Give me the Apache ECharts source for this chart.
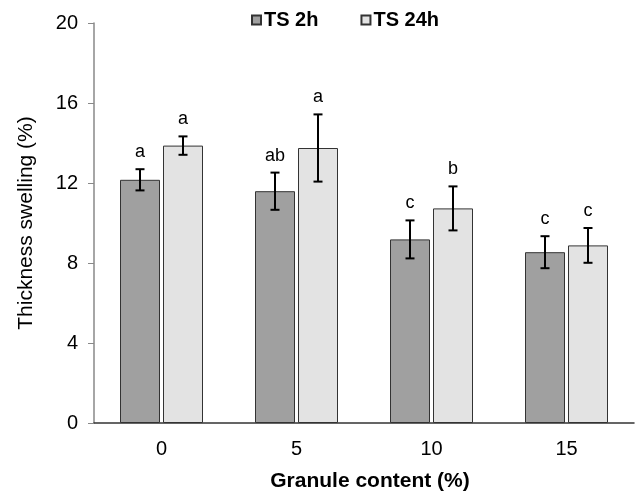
<!DOCTYPE html>
<html>
<head>
<meta charset="utf-8">
<script src="https://cdn.jsdelivr.net/npm/echarts@6/dist/echarts.min.js"></script>
<style>
  html, body { margin: 0; padding: 0; background: #fff; }
  #chart { width: 636px; height: 497px; }
</style>
</head>
<body>
<div id="chart"></div>
<script>
var categories = ['0', '5', '10', '15'];
var ts2h = [12.16, 11.59, 9.18, 8.54];
var ts2hErr = [0.53, 0.93, 0.95, 0.8];
var ts2hLetters = ['a', 'ab', 'c', 'c'];
var ts24h = [13.87, 13.75, 10.73, 8.88];
var ts24hErr = [0.46, 1.68, 1.1, 0.87];
var ts24hLetters = ['a', 'a', 'b', 'c'];
var yTicks = { min: 0, max: 20, interval: 4 };

var FONT = '"Liberation Sans", Arial, sans-serif';
var BAR_W = 40;
var BAR_GAP = 3;

// error bar + letter for one series, shifted to its bar centre
function errorSeries(values, errs, letters, shift) {
  return {
    type: 'custom',
    silent: true,
    z: 5,
    data: values.map(function (v, i) { return [i, v, errs[i]]; }),
    renderItem: function (params, api) {
      var i = api.value(0);
      var v = api.value(1);
      var e = api.value(2);
      var top = api.coord([i, v + e]);
      var bot = api.coord([i, v - e]);
      var x = top[0] + shift;
      var cap = 4.5;
      var st = { stroke: '#000', lineWidth: 2 };
      return {
        type: 'group',
        children: [
          { type: 'line', shape: { x1: x, y1: top[1], x2: x, y2: bot[1] }, style: st },
          { type: 'line', shape: { x1: x - cap, y1: top[1], x2: x + cap, y2: top[1] }, style: st },
          { type: 'line', shape: { x1: x - cap, y1: bot[1], x2: x + cap, y2: bot[1] }, style: st },
          {
            type: 'text',
            style: {
              x: x, y: top[1] - 8,
              text: letters[params.dataIndex],
              fill: '#000',
              font: '18px ' + FONT,
              align: 'center',
              verticalAlign: 'bottom'
            }
          }
        ]
      };
    }
  };
}

var chart = echarts.init(document.getElementById('chart'));
var offset = (BAR_W + BAR_GAP) / 2;

chart.setOption({
  animation: false,
  textStyle: { fontFamily: FONT },
  legend: {
    top: 5,
    left: 246,
    icon: 'rect',
    itemWidth: 9,
    itemHeight: 9,
    itemGap: 42,
    data: ['TS 2h', 'TS 24h'],
    textStyle: { fontSize: 20, fontWeight: 'bold', color: '#000', padding: [0, 0, 0, -2] }
  },
  grid: { left: 94, right: 2, top: 23, bottom: 73 },
  xAxis: {
    type: 'category',
    data: categories,
    name: 'Granule content (%)',
    nameLocation: 'middle',
    nameGap: 48,
    nameTextStyle: { fontSize: 21, fontWeight: 'bold', color: '#000', padding: [0, 0, 0, 12] },
    axisTick: { show: false },
    axisLine: { lineStyle: { color: '#333', width: 1.5 } },
    axisLabel: { fontSize: 20, color: '#000', margin: 16 }
  },
  yAxis: {
    type: 'value',
    min: yTicks.min,
    max: yTicks.max,
    interval: yTicks.interval,
    name: 'Thickness swelling (%)',
    nameLocation: 'middle',
    nameGap: 57,
    nameTextStyle: { fontSize: 21, color: '#000' },
    splitLine: { show: false },
    axisLine: { show: true, lineStyle: { color: '#888', width: 1.5 } },
    axisTick: { show: true, length: 6, lineStyle: { color: '#888' } },
    axisLabel: { fontSize: 20, color: '#000', margin: 16 }
  },
  series: [
    {
      name: 'TS 2h',
      type: 'bar',
      data: ts2h,
      barWidth: BAR_W,
      barGap: (BAR_GAP / BAR_W * 100) + '%',
      itemStyle: { color: '#a0a0a0', borderColor: '#333', borderWidth: 1 }
    },
    {
      name: 'TS 24h',
      type: 'bar',
      data: ts24h,
      barWidth: BAR_W,
      itemStyle: { color: '#e3e3e3', borderColor: '#333', borderWidth: 1 }
    },
    errorSeries(ts2h, ts2hErr, ts2hLetters, -offset),
    errorSeries(ts24h, ts24hErr, ts24hLetters, offset)
  ]
});
</script>
</body>
</html>
